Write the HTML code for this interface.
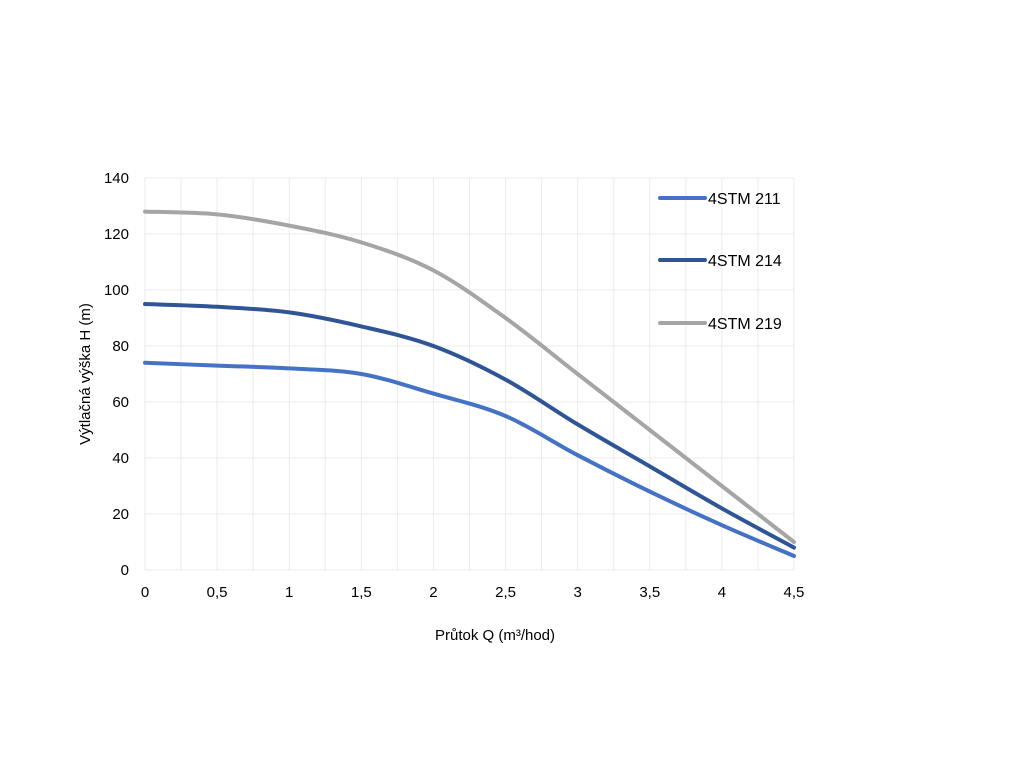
<!DOCTYPE html>
<html><head><meta charset="utf-8"><style>
body{margin:0;background:#fff;width:1024px;height:768px;overflow:hidden}
svg text{font-family:"Liberation Sans",Arial,sans-serif;fill:#000}
</style></head><body>
<svg id="s" width="1024" height="768" xmlns="http://www.w3.org/2000/svg">
<g id="grid" stroke="#ebebeb" stroke-width="1"></g>
<g id="lab" font-size="15"></g>
<text x="495" y="640" font-size="15" text-anchor="middle">Průtok Q (m³/hod)</text>
<text transform="translate(90,374) rotate(-90)" font-size="15" text-anchor="middle">Výtlačná výška H (m)</text>
<g id="series" fill="none" stroke-width="4" stroke-linecap="round"></g>
<g font-size="16">
<line x1="660" y1="198" x2="705" y2="198" stroke="#4472C4" stroke-width="4" stroke-linecap="round"/>
<text x="708" y="204">4STM 211</text>
<line x1="660" y1="260" x2="705" y2="260" stroke="#2F5597" stroke-width="4" stroke-linecap="round"/>
<text x="708" y="266">4STM 214</text>
<line x1="660" y1="323" x2="705" y2="323" stroke="#A5A5A5" stroke-width="4" stroke-linecap="round"/>
<text x="708" y="329">4STM 219</text>
</g>
</svg>
<script>
var X=function(q){return 145+q*144.22},Y=function(h){return 570-h*2.8};
var ns="http://www.w3.org/2000/svg",g=document.getElementById('grid'),l=document.getElementById('lab');
function el(p,t,a){var e=document.createElementNS(ns,t);for(var k in a)e.setAttribute(k,a[k]);p.appendChild(e);return e}
for(var i=0;i<=18;i++){var x=X(i*0.25);el(g,'line',{x1:x,x2:x,y1:Y(140),y2:Y(0)})}
for(var h=0;h<=140;h+=20){el(g,'line',{x1:X(0),x2:X(4.5),y1:Y(h),y2:Y(h)});var t=el(l,'text',{x:129,y:Y(h)+5,'text-anchor':'end'});t.textContent=h}
var xl=['0','0,5','1','1,5','2','2,5','3','3,5','4','4,5'];
xl.forEach(function(s,i){var t=el(l,'text',{x:X(i*0.5),y:597,'text-anchor':'middle'});t.textContent=s});
var S=[["#A5A5A5",[128,127,123,117,107,90,70,50,30,10]],["#2F5597",[95,94,92,87,80,68,52,37,22,8]],["#4472C4",[74,73,72,70,63,55,41,28,16,5]]];
var sg=document.getElementById('series');
S.forEach(function(s){var p=s[1].map(function(h,i){return [X(i*0.5),Y(h)]});var d='M'+p[0];
for(var i=0;i<p.length-1;i++){var a=p[i-1]||p[i],b=p[i],c=p[i+1],e=p[i+2]||c;
d+=' C'+(b[0]+(c[0]-a[0])/6)+','+(b[1]+(c[1]-a[1])/6)+' '+(c[0]-(e[0]-b[0])/6)+','+(c[1]-(e[1]-b[1])/6)+' '+c[0]+','+c[1];}
el(sg,'path',{d:d,stroke:s[0]})});
</script>
</body></html>
